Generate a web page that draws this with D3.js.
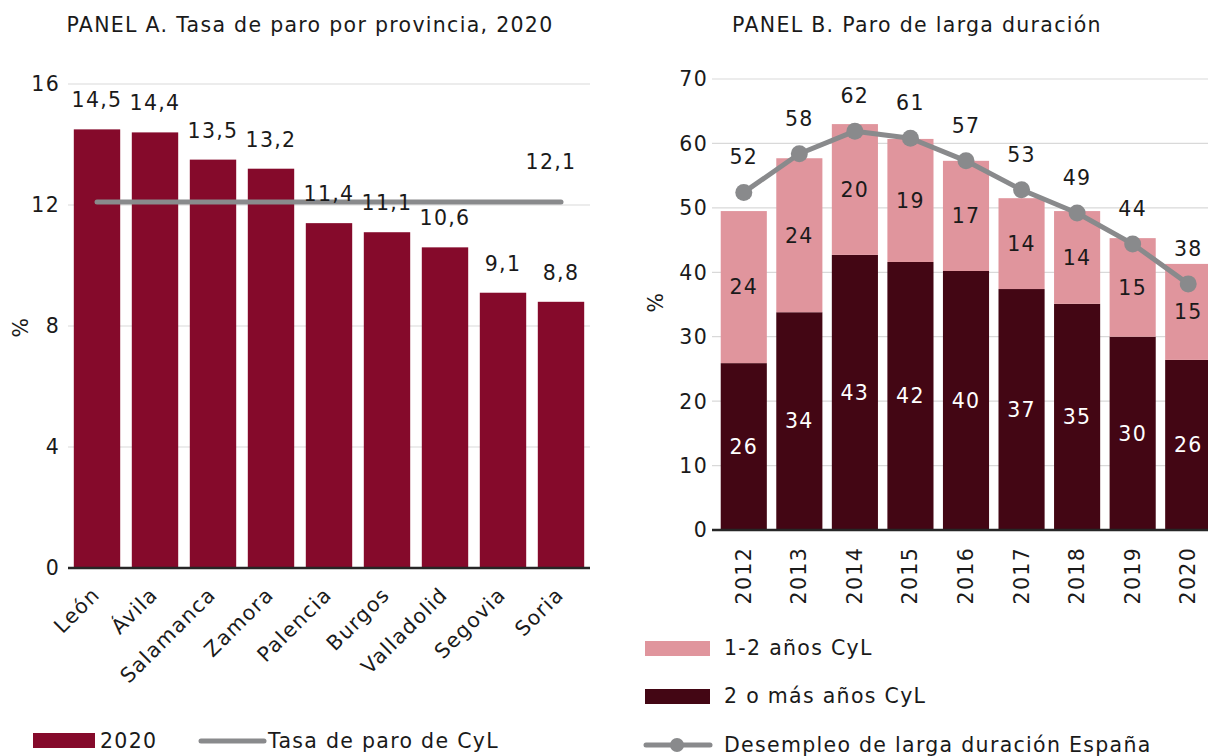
<!DOCTYPE html>
<html>
<head>
<meta charset="utf-8">
<script src="https://cdn.jsdelivr.net/npm/d3@7"></script>
<style>
  body { margin: 0; background: #fff; }
  svg text { font-family: "DejaVu Sans", sans-serif; fill: #1a1a1a; letter-spacing: 1.3px; }
</style>
</head>
<body>
<div id="chart"></div>
<script>
// chart size
var w = 1208;
var h = 756;

// panel A data
var provinces = ["León", "Ávila", "Salamanca", "Zamora", "Palencia", "Burgos", "Valladolid", "Segovia", "Soria"];
var rate2020 = [14.5, 14.4, 13.5, 13.2, 11.4, 11.1, 10.6, 9.1, 8.8];
var cylRate = 12.1;
var ticksA = [0, 4, 8, 12, 16];

// panel B data
var years = ["2012", "2013", "2014", "2015", "2016", "2017", "2018", "2019", "2020"];
var twoPlusYears = [25.9, 33.8, 42.7, 41.6, 40.2, 37.4, 35.1, 30.0, 26.4];
var oneTwoYears = [23.6, 23.9, 20.3, 19.1, 17.1, 14.1, 14.4, 15.3, 14.9];
var spainLong = [52.4, 58.4, 61.9, 60.8, 57.3, 52.8, 49.2, 44.4, 38.2];
var ticksB = [0, 10, 20, 30, 40, 50, 60, 70];

var colorBar = "#850a2b",
    colorPink = "#e0959d",
    colorDark = "#430614",
    colorGray = "#898a8c",
    colorGrid = "#d9d9d9";

var fs = 20.5;
var comma = function(v) { return d3.format(".1f")(v).replace(".", ","); };

var svg = d3.select("#chart").append("svg")
    .attr("width", w)
    .attr("height", h);

// ---------- PANEL A ----------
var xA = d3.scaleBand().domain(provinces).range([68, 590]).paddingInner(0.2).paddingOuter(0.1);
var yA = d3.scaleLinear().domain([0, 16]).range([568, 84]);

svg.append("text")
    .attr("x", 310).attr("y", 32)
    .attr("text-anchor", "middle")
    .style("font-size", fs + "px")
    .text("PANEL A. Tasa de paro por provincia, 2020");

var gA = svg.append("g");

gA.selectAll(".gridA")
    .data(ticksA.filter(function(d) { return d > 0; }))
    .enter().append("line")
    .attr("x1", 68).attr("x2", 590)
    .attr("y1", function(d) { return yA(d); })
    .attr("y2", function(d) { return yA(d); })
    .attr("stroke", colorGrid).attr("stroke-width", 1.2);

gA.selectAll(".tickA")
    .data(ticksA)
    .enter().append("text")
    .attr("x", 60)
    .attr("y", function(d) { return yA(d); })
    .attr("dy", "0.36em")
    .attr("text-anchor", "end")
    .style("font-size", fs + "px")
    .text(function(d) { return d; });

gA.append("text")
    .attr("transform", "translate(28,327) rotate(-90)")
    .attr("text-anchor", "middle")
    .style("font-size", fs + "px")
    .text("%");

gA.selectAll("rect")
    .data(rate2020)
    .enter().append("rect")
    .attr("x", function(d, i) { return xA(provinces[i]); })
    .attr("y", function(d) { return yA(d); })
    .attr("width", xA.bandwidth())
    .attr("height", function(d) { return yA(0) - yA(d); })
    .attr("fill", colorBar);

gA.append("line")
    .attr("x1", 68).attr("x2", 590)
    .attr("y1", yA(0)).attr("y2", yA(0))
    .attr("stroke", "#262626").attr("stroke-width", 2.5);

// CyL line
var midA = function(p) { return xA(p) + xA.bandwidth() / 2; };
gA.append("path")
    .datum(provinces)
    .attr("d", d3.line().x(midA).y(function() { return yA(cylRate); }))
    .attr("stroke", colorGray).attr("stroke-width", 5)
    .attr("stroke-linecap", "round").attr("fill", "none");

gA.selectAll(".lblA")
    .data(rate2020)
    .enter().append("text")
    .attr("x", function(d, i) { return midA(provinces[i]); })
    .attr("y", function(d) { return yA(d) - 22; })
    .attr("text-anchor", "middle")
    .style("font-size", fs + "px")
    .text(function(d) { return comma(d); });

gA.append("text")
    .attr("x", midA(provinces[provinces.length - 1]) - 10)
    .attr("y", yA(cylRate) - 33)
    .attr("text-anchor", "middle")
    .style("font-size", fs + "px")
    .text(comma(cylRate));

gA.selectAll(".catA")
    .data(provinces)
    .enter().append("text")
    .attr("transform", function(d) { return "translate(" + (midA(d) + 4) + "," + 596 + ") rotate(-45)"; })
    .attr("text-anchor", "end")
    .style("font-size", fs + "px")
    .text(function(d) { return d; });

// legend A
gA.append("rect").attr("x", 33).attr("y", 733).attr("width", 62).attr("height", 15).attr("fill", colorBar);
gA.append("text").attr("x", 100).attr("y", 748).style("font-size", fs + "px").text("2020");
gA.append("line").attr("x1", 201).attr("x2", 264).attr("y1", 741).attr("y2", 741)
    .attr("stroke", colorGray).attr("stroke-width", 5).attr("stroke-linecap", "round");
gA.append("text").attr("x", 268).attr("y", 748).style("font-size", fs + "px").text("Tasa de paro de CyL");

// ---------- PANEL B ----------
var xB = d3.scaleBand().domain(years).range([716, 1216]).paddingInner(0.17).paddingOuter(0.085);
var yB = d3.scaleLinear().domain([0, 70]).range([530, 79]);
var midB = function(y) { return xB(y) + xB.bandwidth() / 2; };

svg.append("text")
    .attr("x", 917).attr("y", 32)
    .attr("text-anchor", "middle")
    .style("font-size", fs + "px")
    .text("PANEL B. Paro de larga duración");

var gB = svg.append("g");

gB.selectAll(".gridB")
    .data(ticksB.filter(function(d) { return d > 0; }))
    .enter().append("line")
    .attr("x1", 712).attr("x2", 1208)
    .attr("y1", function(d) { return yB(d); })
    .attr("y2", function(d) { return yB(d); })
    .attr("stroke", colorGrid).attr("stroke-width", 1.2);

gB.selectAll(".tickB")
    .data(ticksB)
    .enter().append("text")
    .attr("x", 708)
    .attr("y", function(d) { return yB(d); })
    .attr("dy", "0.36em")
    .attr("text-anchor", "end")
    .style("font-size", fs + "px")
    .text(function(d) { return d; });

gB.append("text")
    .attr("transform", "translate(663,302) rotate(-90)")
    .attr("text-anchor", "middle")
    .style("font-size", fs + "px")
    .text("%");

var stackData = years.map(function(y, i) {
    return { year: y, twoPlus: twoPlusYears[i], oneTwo: oneTwoYears[i] };
});
var series = d3.stack().keys(["twoPlus", "oneTwo"])(stackData);
var segColor = { twoPlus: colorDark, oneTwo: colorPink };
var segText = { twoPlus: "#ffffff", oneTwo: "#1a1a1a" };

series.forEach(function(s) {
    gB.selectAll(".seg-" + s.key)
        .data(s)
        .enter().append("rect")
        .attr("x", function(d) { return xB(d.data.year); })
        .attr("y", function(d) { return yB(d[1]); })
        .attr("width", xB.bandwidth())
        .attr("height", function(d) { return yB(d[0]) - yB(d[1]); })
        .attr("fill", segColor[s.key]);
});

gB.append("line")
    .attr("x1", 712).attr("x2", 1208)
    .attr("y1", yB(0)).attr("y2", yB(0))
    .attr("stroke", "#262626").attr("stroke-width", 2.5);

series.forEach(function(s) {
    gB.selectAll(".segl-" + s.key)
        .data(s)
        .enter().append("text")
        .attr("x", function(d) { return midB(d.data.year); })
        .attr("y", function(d) { return (yB(d[0]) + yB(d[1])) / 2; })
        .attr("dy", "0.36em")
        .attr("text-anchor", "middle")
        .style("font-size", fs + "px")
        .style("fill", segText[s.key])
        .text(function(d) { return Math.round(d[1] - d[0]); });
});

// Spain line
gB.append("path")
    .datum(spainLong)
    .attr("d", d3.line()
        .x(function(d, i) { return midB(years[i]); })
        .y(function(d) { return yB(d); }))
    .attr("stroke", colorGray).attr("stroke-width", 5)
    .attr("stroke-linejoin", "round").attr("fill", "none");

gB.selectAll(".dotB")
    .data(spainLong)
    .enter().append("circle")
    .attr("cx", function(d, i) { return midB(years[i]); })
    .attr("cy", function(d) { return yB(d); })
    .attr("r", 8.5)
    .attr("fill", colorGray);

gB.selectAll(".lblB")
    .data(spainLong)
    .enter().append("text")
    .attr("x", function(d, i) { return midB(years[i]); })
    .attr("y", function(d) { return yB(d) - 28; })
    .attr("text-anchor", "middle")
    .style("font-size", fs + "px")
    .text(function(d) { return Math.round(d); });

gB.selectAll(".catB")
    .data(years)
    .enter().append("text")
    .attr("transform", function(d) { return "translate(" + (midB(d) + 7) + ",547) rotate(-90)"; })
    .attr("text-anchor", "end")
    .style("font-size", fs + "px")
    .text(function(d) { return d; });

// legend B
gB.append("rect").attr("x", 645).attr("y", 641).attr("width", 65).attr("height", 15).attr("fill", colorPink);
gB.append("text").attr("x", 724).attr("y", 655).style("font-size", fs + "px").text("1-2 años CyL");
gB.append("rect").attr("x", 645).attr("y", 689).attr("width", 65).attr("height", 15).attr("fill", colorDark);
gB.append("text").attr("x", 724).attr("y", 703).style("font-size", fs + "px").text("2 o más años CyL");
gB.append("line").attr("x1", 646).attr("x2", 710).attr("y1", 745).attr("y2", 745)
    .attr("stroke", colorGray).attr("stroke-width", 5).attr("stroke-linecap", "round");
gB.append("circle").attr("cx", 677).attr("cy", 745).attr("r", 7).attr("fill", colorGray);
gB.append("text").attr("x", 724).attr("y", 752).style("font-size", fs + "px").text("Desempleo de larga duración España");
</script>
</body>
</html>
